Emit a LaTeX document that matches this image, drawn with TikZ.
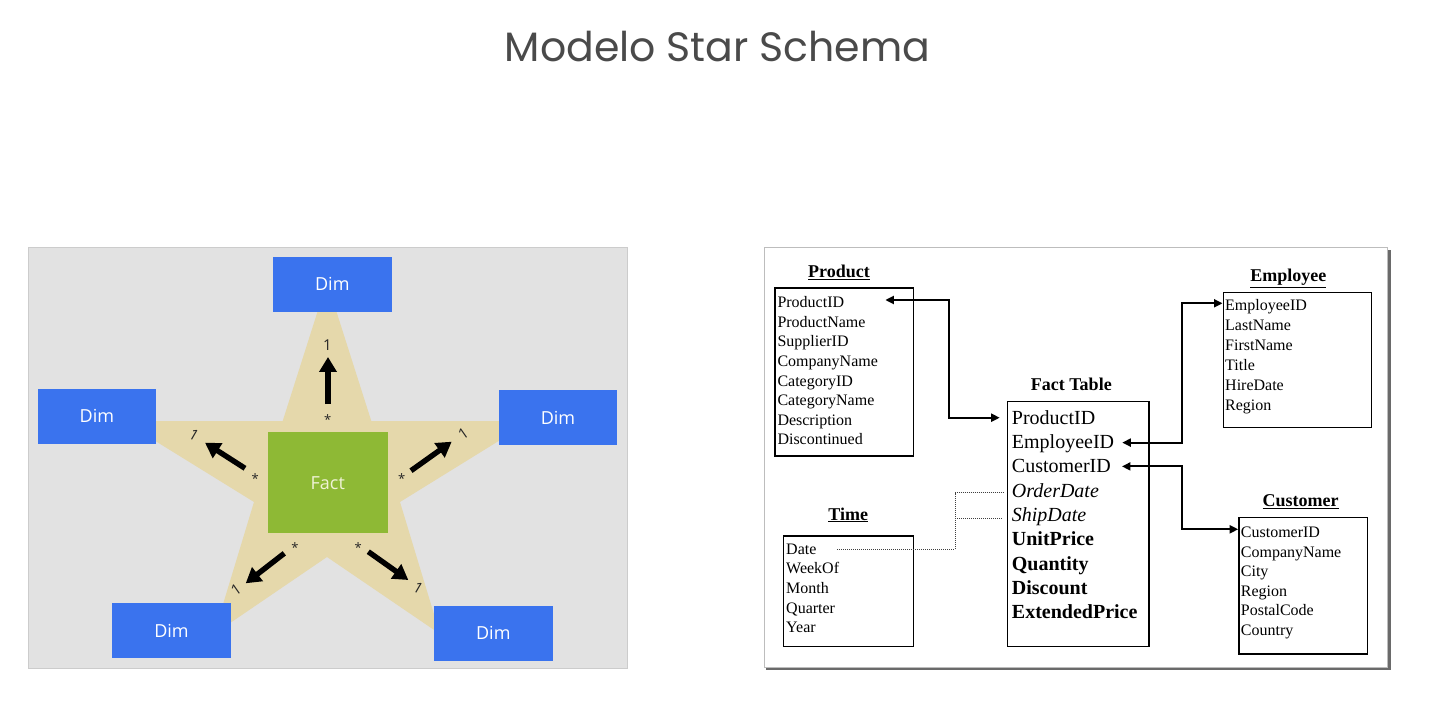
\documentclass[tikz,border=0pt]{standalone}
\usepackage{fontspec}
\setmainfont{Liberation Serif}
\newfontfamily\titlefont{Poppins}
\newfontfamily\dimfont{Open Sans}
\usetikzlibrary{arrows.meta}
\definecolor{panelbg}{HTML}{E2E2E2}
\definecolor{panelborder}{HTML}{CCCCCC}
\definecolor{startan}{HTML}{E5D8AB}
\definecolor{dimblue}{HTML}{3A73EE}
\definecolor{factgreen}{HTML}{8EB935}
\definecolor{facttext}{HTML}{F0F3D6}
\definecolor{titlegray}{HTML}{4A4A4A}
\definecolor{shadowgray}{HTML}{6A6A6A}
\definecolor{frameborder}{HTML}{BDBDBD}
\begin{document}
\begin{tikzpicture}[x=1pt,y=-1pt,
  dimbox/.style={fill=dimblue, minimum width=118.6pt, minimum height=55pt, inner sep=0pt, text=white, font=\dimfont\fontsize{18}{18}\selectfont},
  factbox/.style={fill=factgreen, minimum width=119.7pt, minimum height=101pt, inner sep=0pt, text=facttext, font=\dimfont\fontsize{18}{18}\selectfont},
  fatarrow/.style={line width=5.4pt, -{Triangle[length=15pt,width=17pt]}},
  card/.style={font=\dimfont\fontsize{15}{15}\selectfont, inner sep=0pt, text=black!85},
  star/.style={font=\dimfont\fontsize{13}{13}\selectfont, inner sep=0pt, text=black!85},
  tbox/.style={draw=black, line width=1.5pt, anchor=north west, inner sep=0pt},
  row/.style={anchor=base west, inner sep=0pt, font=\fontsize{16}{16}\selectfont},
  frow/.style={anchor=base west, inner sep=0pt, font=\fontsize{20}{20}\selectfont},
  ttitle/.style={anchor=base, inner sep=0pt, font=\bfseries\fontsize{18}{18}\selectfont},
  link/.style={line width=2pt, {Triangle[length=8.5pt,width=8pt]}-{Triangle[length=8.5pt,width=8pt]}},
  dotlink/.style={densely dotted, line width=1pt, black!75}
]
\useasboundingbox (0,0) rectangle (1441,703);
\fill[white] (0,0) rectangle (1441,703);

% title
\node[anchor=base, inner sep=0pt, font=\titlefont\fontsize{41}{41}\selectfont, text=titlegray] (title) at (717.5,61.7) {Modelo Star Schema};

% ---------- left panel ----------
\filldraw[fill=panelbg, draw=panelborder, line width=1pt] (28.5,247.5) rectangle (627,668);
\fill[startan] (327,282) -- (371.3,421) -- (531,421) -- (400,502) -- (440,634) -- (327,557)
  -- (214,634) -- (254,502) -- (123,421) -- (282.7,421) -- cycle;

\node[dimbox] (dtop) at (332.3,284.2) {Dim};
\node[dimbox] (dleft) at (96.9,416.2) {Dim};
\node[dimbox] (dright) at (558,417.5) {Dim};
\node[dimbox] (dbl) at (171.5,630.8) {Dim};
\node[dimbox] (dbr) at (493.3,633.2) {Dim};
\node[factbox] (fact) at (327.8,482.8) {Fact};

\coordinate (a1s) at (328,404);   \coordinate (a1e) at (328,357);
\coordinate (a2s) at (245,468.3); \coordinate (a2e) at (205,442.7);
\coordinate (a3s) at (411,470.7); \coordinate (a3e) at (451.7,441.7);
\coordinate (a4s) at (284.3,553.3); \coordinate (a4e) at (245.7,583.3);
\coordinate (a5s) at (368.3,551.7); \coordinate (a5e) at (408.3,580);
\draw[fatarrow] (a1s) -- (a1e);
\draw[fatarrow] (a2s) -- (a2e);
\draw[fatarrow] (a3s) -- (a3e);
\draw[fatarrow] (a4s) -- (a4e);
\draw[fatarrow] (a5s) -- (a5e);

\node[star] (s1) at (327.7,419.5) {*};
\node[star] (s2) at (255.3,478.8) {*};
\node[star] (s3) at (401.7,478.8) {*};
\node[star] (s4) at (295,547.2) {*};
\node[star] (s5) at (358.3,547.2) {*};
\node[card] (o1) at (327.3,345) {1};
\node[card, rotate=-30] (o2) at (194,435) {1};
\node[card, rotate=35] (o3) at (463.3,434) {1};
\node[card, rotate=35] (o4) at (236,590) {1};
\node[card, rotate=-30] (o5) at (418.3,588.3) {1};

% ---------- right panel ----------
\fill[shadowgray] (766,250) rectangle (1391,670);
\filldraw[fill=white, draw=frameborder, line width=0.8pt] (764,247) rectangle (1387.5,667);

% boxes
\node[tbox, minimum width=138.7pt, minimum height=167.7pt] (prodbox) at (774,287.3) {};
\node[tbox, minimum width=141.6pt, minimum height=244.8pt] (factbox2) at (1006.7,400.7) {};
\node[tbox, minimum width=148pt, minimum height=135pt] (empbox) at (1222.7,291.7) {};
\node[tbox, minimum width=128.4pt, minimum height=136.6pt] (custbox) at (1238.3,516.7) {};
\node[tbox, minimum width=130pt, minimum height=110.7pt] (timebox) at (782.7,535) {};

% titles
\node[ttitle] (tprod) at (839,277.3) {\underline{Product}};
\node[ttitle] (tfact) at (1071.3,390.7) {Fact Table};
\node[ttitle] (temp) at (1288.3,282) {\underline{Employee}};
\node[ttitle] (tcust) at (1300.5,506.7) {\underline{Customer}};
\node[ttitle] (ttime) at (848.3,520) {\underline{Time}};

% rows
\foreach \t [count=\i] in {ProductID,ProductName,SupplierID,CompanyName,CategoryID,CategoryName,Description,Discontinued}
  \node[row] (pr\i) at (777.3,{307.7+19.6*(\i-1)}) {\t};
\foreach \t [count=\i] in {EmployeeID,LastName,FirstName,Title,HireDate,Region}
  \node[row] (e\i) at (1225,{311+19.8*(\i-1)}) {\t};
\foreach \t [count=\i] in {CustomerID,CompanyName,City,Region,PostalCode,Country}
  \node[row] (c\i) at (1240.7,{537.7+19.5*(\i-1)}) {\t};
\foreach \t [count=\i] in {Date,WeekOf,Month,Quarter,Year}
  \node[row] (t\i) at (786,{554.3+19.6*(\i-1)}) {\t};

\node[frow] (f1) at (1011.7,424.3) {ProductID};
\node[frow] (f2) at (1011.7,448.6) {EmployeeID};
\node[frow] (f3) at (1011.7,472.9) {CustomerID};
\node[frow] (f4) at (1011.7,497.2) {\itshape OrderDate};
\node[frow] (f5) at (1011.7,521.5) {\itshape ShipDate};
\node[frow] (f6) at (1011.7,545.8) {\bfseries UnitPrice};
\node[frow] (f7) at (1011.7,570.1) {\bfseries Quantity};
\node[frow] (f8) at (1011.7,594.4) {\bfseries Discount};
\node[frow] (f9) at (1011.7,618.7) {\bfseries ExtendedPrice};

% links
\draw[link] ([shift={(41,-7.7)}]pr1.base east) -- ++(64,0) |- ([shift={(-12,-6.6)}]f1.base west);
\draw[link] ([shift={(8,-6)}]f2.base east) -- ++(60,0) |- ([shift={(-2.5,-7.7)}]e1.base west);
\draw[link] ([shift={(11,-6.5)}]f3.base east) -- ++(60,0) |- ([shift={(-2.5,-8.4)}]c1.base west);

% dotted links
\coordinate (dv) at (955,0);
\coordinate (dA) at ([shift={(20.5,-5)}]t1.base east);
\coordinate (dB) at ([shift={(-9,-4.5)}]f4.base west);
\coordinate (dC) at ([shift={(-9,-3.2)}]f5.base west);
\draw[dotlink] (dA) -- (dA -| dv) |- (dB);
\draw[dotlink] (dv |- dC) -- (dC);
\end{tikzpicture}
\end{document}
